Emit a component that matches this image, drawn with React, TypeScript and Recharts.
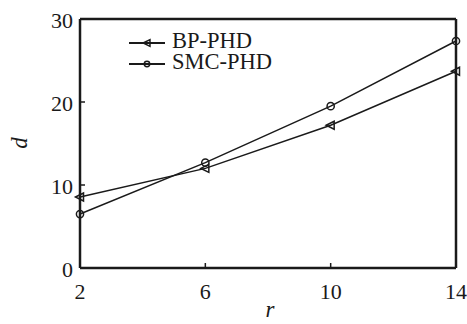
import React from "react";
import { LineChart, Line, XAxis, YAxis, ReferenceLine } from "recharts";

// values
const rValues = [2, 6, 10, 14];
const bpPhd = [8.55, 12.0, 17.2, 23.7];
const smcPhd = [6.5, 12.7, 19.5, 27.35];
const xTicks = [2, 6, 10, 14];
const yTicks = [0, 10, 20, 30];
const seriesNames = ["BP-PHD", "SMC-PHD"];

const chartData = rValues.map((r, i) => ({ r, bp: bpPhd[i], smc: smcPhd[i] }));

const FONT = "Liberation Serif, Times New Roman, serif";
const INK = "#1a1a1a";
const tickStyle: React.CSSProperties = { fontFamily: FONT, fontSize: 22 };
const legendStyle: React.CSSProperties = { fontFamily: FONT, fontSize: 22.5 };

/** open left-pointing triangle marker */
function TriangleDot(props: any) {
  const { cx, cy, s = 1 } = props;
  if (cx == null || cy == null) return null;
  return (
    <polygon
      points={`${cx - 4.5 * s},${cy} ${cx + 3.5 * s},${cy - 4 * s} ${cx + 3.5 * s},${cy + 4 * s}`}
      fill="none"
      stroke={INK}
      strokeWidth={1.5}
    />
  );
}

function CircleDot(props: any) {
  const { cx, cy, s = 1 } = props;
  if (cx == null || cy == null) return null;
  return <circle cx={cx} cy={cy} r={3.6 * s} fill="none" stroke={INK} strokeWidth={1.5} />;
}

function XTick(props: any) {
  const { x, y, payload } = props;
  return (
    <g>
      <line x1={x} x2={x} y1={y} y2={y - 5} stroke={INK} strokeWidth={1.5} />
      <text x={x} y={y + 31} textAnchor="middle" style={tickStyle} fill={INK}>
        {payload.value}
      </text>
    </g>
  );
}

function YTick(props: any) {
  const { x, y, payload } = props;
  return (
    <g>
      <line x1={x} x2={x + 5} y1={y} y2={y} stroke={INK} strokeWidth={1.5} />
      <text x={x - 7} y={y + 1} dy="0.35em" textAnchor="end" style={tickStyle} fill={INK}>
        {payload.value}
      </text>
    </g>
  );
}

/** legend drawn as an overlay, top-left inside the plot */
function LegendBox() {
  const rows = [
    { name: seriesNames[0], Dot: TriangleDot, y: 43, s: 0.85 },
    { name: seriesNames[1], Dot: CircleDot, y: 64, s: 0.75 },
  ];
  return (
    <svg
      width={200}
      height={80}
      style={{ position: "absolute", left: 120, top: 0, overflow: "visible" }}
    >
      {rows.map(({ name, Dot, y, s }) => (
        <g key={name}>
          <line x1={9} x2={45} y1={y} y2={y} stroke={INK} strokeWidth={1.8} />
          <Dot cx={27} cy={y} s={s} />
          <text x={52} y={y + 5} style={legendStyle} fill={INK}>
            {name}
          </text>
        </g>
      ))}
    </svg>
  );
}

export default function App() {
  return (
    <div style={{ position: "absolute", left: 0, top: 0, width: 467, height: 324, background: "#fff" }}>
      <LineChart
        width={467}
        height={324}
        data={chartData}
        margin={{ top: 19, right: 11, bottom: 0, left: 0 }}
      >
        <XAxis
          dataKey="r"
          type="number"
          domain={[2, 14]}
          ticks={xTicks}
          tickSize={0}
          tickMargin={0}
          height={56}
          tick={<XTick />}
          tickLine={false}
          axisLine={{ stroke: INK, strokeWidth: 2.5 }}
          label={{
            content: () => (
              <text x={270} y={317} textAnchor="middle" style={{ ...tickStyle, fontSize: 23, fontStyle: "italic" }} fill={INK}>
                r
              </text>
            ),
          }}
        />
        <YAxis
          type="number"
          domain={[0, 30]}
          ticks={yTicks}
          tickSize={0}
          tickMargin={0}
          width={80}
          tick={<YTick />}
          tickLine={false}
          axisLine={{ stroke: INK, strokeWidth: 2.5 }}
          label={{
            content: () => (
              <text
                x={27}
                y={143}
                textAnchor="middle"
                transform="rotate(-90, 27, 143)"
                style={{ ...tickStyle, fontSize: 23, fontStyle: "italic" }}
                fill={INK}
              >
                d
              </text>
            ),
          }}
        />
        {/* frame: top and right border */}
        <ReferenceLine y={30} stroke={INK} strokeWidth={2.5} />
        <ReferenceLine x={14} stroke={INK} strokeWidth={2.5} />
        <Line
          dataKey="bp"
          name={seriesNames[0]}
          stroke={INK}
          strokeWidth={1.5}
          dot={<TriangleDot />}
          activeDot={false}
          isAnimationActive={false}
        />
        <Line
          dataKey="smc"
          name={seriesNames[1]}
          stroke={INK}
          strokeWidth={1.5}
          dot={<CircleDot />}
          activeDot={false}
          isAnimationActive={false}
        />
      </LineChart>
      <LegendBox />
    </div>
  );
}
